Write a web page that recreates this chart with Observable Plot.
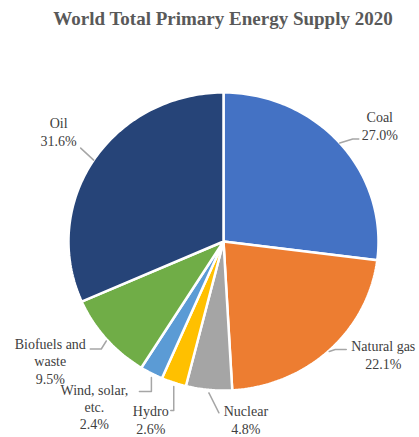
<!DOCTYPE html>
<html>
<head>
<meta charset="utf-8">
<script src="https://cdn.jsdelivr.net/npm/d3@7"></script>
<script src="https://cdn.jsdelivr.net/npm/@observablehq/plot@0.6"></script>
<style>
  html, body { margin: 0; padding: 0; background: #fff; }
  #title {
    box-sizing: border-box; width: 419px; height: 44px;
    padding: 9px 0 0 27px; text-align: center;
    font-family: "Liberation Serif", serif; font-weight: bold;
    font-size: 19px; line-height: 19px; color: #595959;
  }
  #chart svg { display: block; }
</style>
</head>
<body>
<div id="title">World Total Primary Energy Supply 2020</div>
<div id="chart"></div>
<script>
// ---- data ----
const categories = ["Coal", "Natural gas", "Nuclear", "Hydro", "Wind, solar, etc.", "Biofuels and waste", "Oil"];
const shares = [27.0, 22.1, 4.8, 2.6, 2.4, 9.5, 31.6];
const labelNames = ["Coal", "Natural gas", "Nuclear", "Hydro", "Wind, solar,\netc.", "Biofuels and\nwaste", "Oil"];
const sliceColors = ["#4472C4", "#ED7D31", "#A5A5A5", "#FFC000", "#5B9BD5", "#70AD47", "#264478"];

// ---- layout (pixel offsets from each slice's mid-angle edge point) ----
const leaderOffsets = [
  [[0, 0], [13, -4], [19, -4]],
  [[0, 1], [6, -1], [17, -1]],
  [[0, 3], [10, 23]],
  [[0, 4], [0, 28], [-3, 28]],
  [[0, 4], [0, 18], [-12, 18]],
  [[0, 2], [-5, 10], [-16, 10]],
  [[0, 0], [-13, -12]]
];
const labelOffsets = [[40, -17.5], [54, 4], [37, 29.5], [-23, 37], [-57, 33], [-56, 21.5], [-35, -28.6]];

const W = 419, H = 393, mL = 68, mR = 41, mT = 48, mB = 47;
const rx = (W - mL - mR) / 2, ry = (H - mT - mB) / 2;

const data = categories.map((c, i) => ({cat: c, value: shares[i], label: labelNames[i] + "\n" + shares[i].toFixed(1) + "%"}));
const arcs = d3.pie().sort(null).value(d => d.value)(data);

// slice outlines
const slicePts = [];
arcs.forEach(a => {
  const cat = a.data.cat;
  slicePts.push({cat, x: 0, y: 0});
  const n = Math.max(2, Math.ceil((a.endAngle - a.startAngle) / 0.02));
  for (let k = 0; k <= n; k++) {
    const t = a.startAngle + (a.endAngle - a.startAngle) * k / n;
    slicePts.push({cat, x: Math.sin(t), y: Math.cos(t)});
  }
  slicePts.push({cat, x: 0, y: 0});
});

// leaders and labels
const leaderPts = [];
const labelPts = [];
arcs.forEach((a, i) => {
  const m = (a.startAngle + a.endAngle) / 2;
  const ex = Math.sin(m), ey = Math.cos(m);
  leaderOffsets[i].forEach(([px, py]) => leaderPts.push({cat: a.data.cat, x: ex + px / rx, y: ey - py / ry}));
  const [lx, ly] = labelOffsets[i];
  labelPts.push({label: a.data.label, x: ex + lx / rx, y: ey - ly / ry});
});

const chart = Plot.plot({
  width: W, height: H,
  marginLeft: mL, marginRight: mR, marginTop: mT, marginBottom: mB,
  x: {domain: [-1, 1], axis: null},
  y: {domain: [-1, 1], axis: null},
  color: {domain: categories, range: sliceColors},
  style: {background: "white"},
  marks: [
    Plot.line(slicePts, {x: "x", y: "y", z: "cat", fill: "cat", stroke: "white", strokeWidth: 2.5, strokeLinejoin: "miter"}),
    Plot.line(leaderPts, {x: "x", y: "y", z: "cat", stroke: "#a6a6a6", strokeWidth: 1.5}),
    Plot.text(labelPts, {x: "x", y: "y", text: "label", fontFamily: "Liberation Serif", fontSize: 14, fill: "#404040", lineHeight: 1.25, lineAnchor: "middle", textAnchor: "middle"})
  ]
});
document.getElementById("chart").appendChild(chart);
</script>
</body>
</html>
